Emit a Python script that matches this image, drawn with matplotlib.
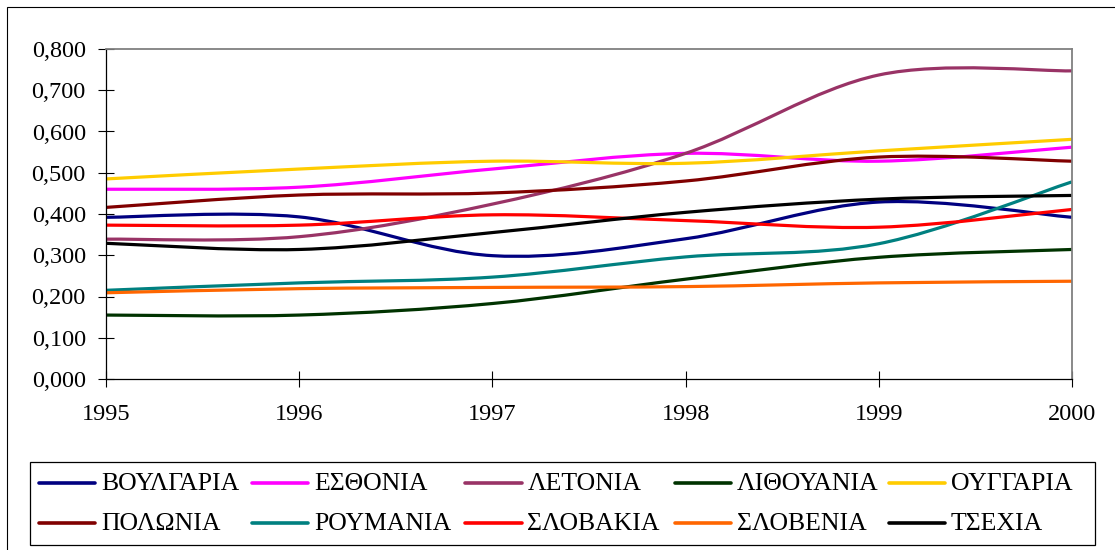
import numpy as np
import matplotlib
matplotlib.use("Agg")
import matplotlib.pyplot as plt
from matplotlib.path import Path
from matplotlib.patches import PathPatch, Rectangle
from matplotlib.lines import Line2D
from matplotlib.ticker import FuncFormatter

plt.rcParams['font.family'] = ['Liberation Serif', 'DejaVu Serif']

years = [1995, 1996, 1997, 1998, 1999, 2000]
countries = ['ΒΟΥΛΓΑΡΙΑ', 'ΕΣΘΟΝΙΑ', 'ΛΕΤΟΝΙΑ', 'ΛΙΘΟΥΑΝΙΑ', 'ΟΥΓΓΑΡΙΑ',
             'ΠΟΛΩΝΙΑ', 'ΡΟΥΜΑΝΙΑ', 'ΣΛΟΒΑΚΙΑ', 'ΣΛΟΒΕΝΙΑ', 'ΤΣΕΧΙΑ']

bulgaria  = [0.392, 0.393, 0.299, 0.340, 0.429, 0.392]
estonia   = [0.460, 0.465, 0.509, 0.547, 0.528, 0.562]
latvia    = [0.339, 0.345, 0.424, 0.547, 0.737, 0.747]
lithuania = [0.155, 0.155, 0.183, 0.242, 0.295, 0.314]
hungary   = [0.485, 0.509, 0.528, 0.523, 0.553, 0.581]
poland    = [0.416, 0.446, 0.451, 0.480, 0.538, 0.528]
romania   = [0.215, 0.233, 0.247, 0.296, 0.328, 0.478]
slovakia  = [0.373, 0.373, 0.398, 0.384, 0.368, 0.411]
slovenia  = [0.209, 0.219, 0.222, 0.224, 0.233, 0.237]
czech     = [0.329, 0.314, 0.355, 0.404, 0.436, 0.445]

series = [bulgaria, estonia, latvia, lithuania, hungary,
          poland, romania, slovakia, slovenia, czech]
colors = ['#000080', '#FF00FF', '#993366', '#003300', '#FFCC00',
          '#800000', '#008080', '#FF0000', '#FF6600', '#000000']

W, H = 1115, 550


def smooth_path(x, y):
    # Excel-style smoothed line: cubic bezier through the data points
    n = len(x)
    verts = [(x[0], y[0])]
    codes = [Path.MOVETO]
    for i in range(n - 1):
        a = max(i - 1, 0)
        b = min(i + 2, n - 1)
        c1 = (x[i] + (x[i + 1] - x[a]) / 6, y[i] + (y[i + 1] - y[a]) / 6)
        c2 = (x[i + 1] - (x[b] - x[i]) / 6, y[i + 1] - (y[b] - y[i]) / 6)
        verts += [c1, c2, (x[i + 1], y[i + 1])]
        codes += [Path.CURVE4] * 3
    return Path(verts, codes)


fig = plt.figure(figsize=(W / 100, H / 100), dpi=100)
ax = fig.add_axes([106 / W, 1 - 379 / H, (1072 - 106) / W, (379 - 49) / H])

for vals, c in zip(series, colors):
    ax.add_patch(PathPatch(smooth_path(years, vals), fill=False,
                           edgecolor=c, lw=2.3, capstyle='butt'))

ax.set_xlim(1995, 2000)
ax.set_ylim(0, 0.8)
ax.set_xticks(years)
ax.set_yticks(np.arange(0, 0.81, 0.1))
ax.yaxis.set_major_formatter(FuncFormatter(lambda v, p: f"{v:.3f}".replace('.', ',')))
ax.tick_params(axis='both', direction='inout', length=12, width=0.8,
               labelsize=17.5, color='black')
ax.tick_params(axis='y', pad=8.5)
ax.tick_params(axis='x', pad=12)

for s in ['top', 'right']:
    ax.spines[s].set_color('#808080')
    ax.spines[s].set_linewidth(1.3)
for s in ['left', 'bottom']:
    ax.spines[s].set_color('black')
    ax.spines[s].set_linewidth(0.9)

# outer chart frame
fig.add_artist(Rectangle((7 / W, -0.1), 1.2, 1.1 - 7 / H, transform=fig.transFigure,
                         fill=False, edgecolor='black', lw=0.8))

# legend
fig.add_artist(Rectangle((29.5 / W, 1 - 545.3 / H), (1095 - 29.5) / W, (545.3 - 461.7) / H,
                         transform=fig.transFigure, fill=False, edgecolor='black', lw=0.9))
col_x = [38.8, 252, 465.5, 675, 889]
row_y = [483.3, 522.7]
row_base = [490, 529.5]
for k, (name, c) in enumerate(zip(countries, colors)):
    r, col = divmod(k, 5)
    x0 = col_x[col]
    fig.add_artist(Line2D([x0 / W, (x0 + 56) / W], [1 - row_y[r] / H] * 2,
                          transform=fig.transFigure, color=c, lw=2.6,
                          solid_capstyle='round'))
    fig.text((x0 + 62) / W, 1 - row_base[r] / H, name, fontsize=18.5,
             ha='left', va='baseline')

fig.savefig('out.png', dpi=100)
